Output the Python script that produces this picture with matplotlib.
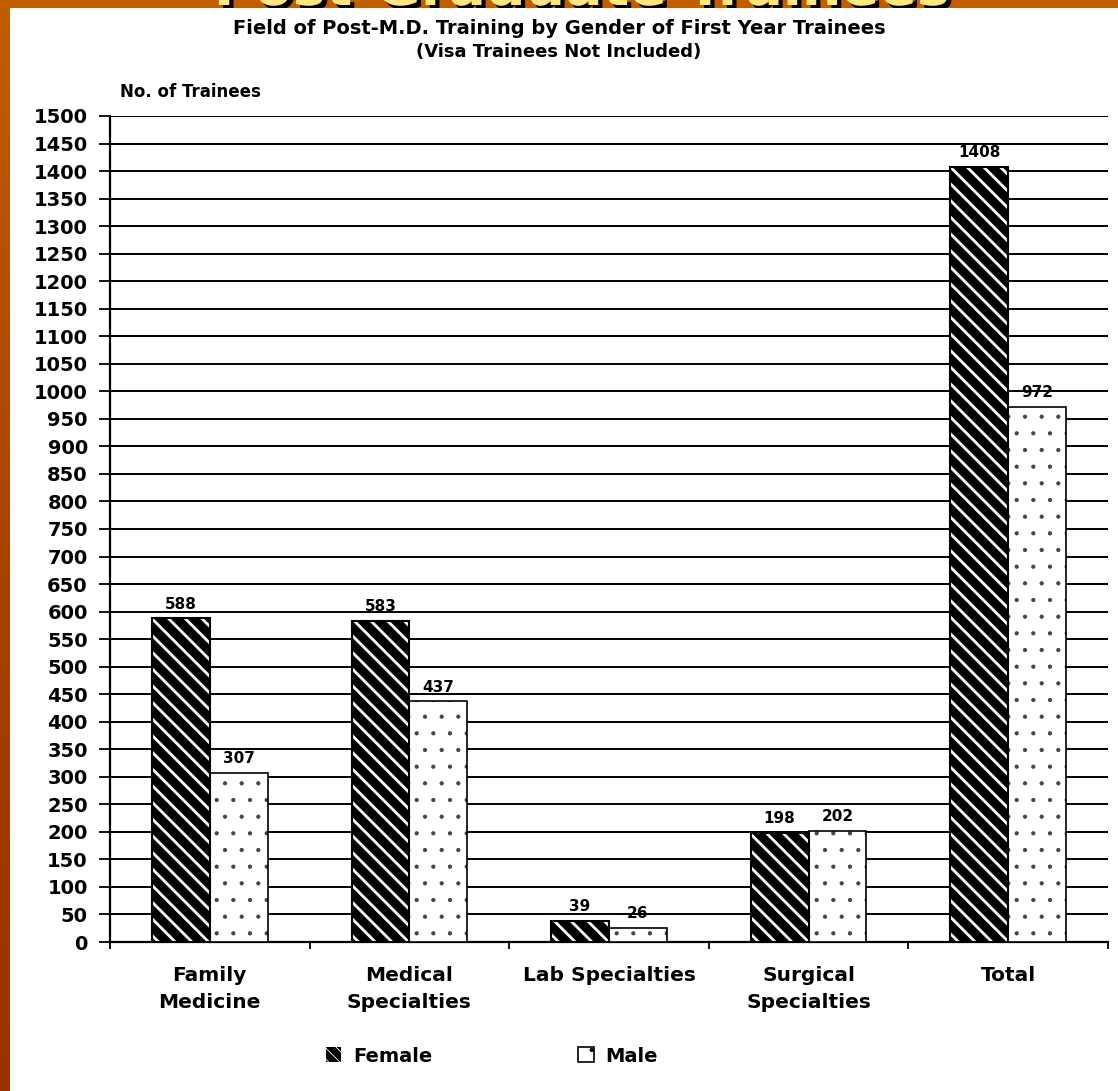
import matplotlib
matplotlib.use("Agg")
import matplotlib.pyplot as plt
import matplotlib.patheffects as pe
from matplotlib.patches import Rectangle
import numpy as np

# Data
categories = ["Family\nMedicine", "Medical\nSpecialties", "Lab Specialties",
              "Surgical\nSpecialties", "Total"]
female = [588, 583, 39, 198, 1408]
male = [307, 437, 26, 202, 972]
yticks = list(range(0, 1501, 50))

plt.rcParams["font.family"] = ["DejaVu Sans"]
plt.rcParams["font.weight"] = "bold"

W, H = 1118, 1091
fig = plt.figure(figsize=(W / 100, H / 100), dpi=100)

# orange slide background (dark gradient toward bottom)
bg = fig.add_axes([0, 0, 1, 1], zorder=0)
grad = np.linspace(0, 1, 256).reshape(-1, 1)
bg.imshow(grad, aspect="auto", cmap=matplotlib.colors.LinearSegmentedColormap.from_list(
    "slide", ["#C05E00", "#A84400", "#963300"]), extent=[0, 1, 0, 1], origin="upper")
bg.set_axis_off()

# slide title peeking above the white panel
fig.text(0.52, 1 - 5 / H, "Post-Graduate Trainees", fontsize=40, color="#FFE680",
         weight="bold", ha="center", va="baseline", zorder=1,
         path_effects=[pe.withSimplePatchShadow(offset=(3, -3), shadow_rgbFace="black", alpha=1)])
fig.patches.append(Rectangle((10 / W, 0), 1, 1 - 8 / H, transform=fig.transFigure,
                             facecolor="white", edgecolor="none", zorder=2))

ax = fig.add_axes([110 / W, 1 - 942 / H, (1108 - 110) / W, (942 - 116) / H], zorder=3)
ax.set_facecolor("none")

x = np.arange(len(categories))
w = 0.29
# female: black with white diagonal stripes
plt.rcParams["hatch.linewidth"] = 2.0
ax.bar(x - w / 2, female, w, color="black", edgecolor="white", hatch="\\\\", linewidth=0, zorder=3)
# male: white with sparse small dots
plt.rcParams["hatch.linewidth"] = 0.6
ax.bar(x + w / 2, male, w, color="white", edgecolor="#444444", hatch=".", linewidth=0, zorder=3)
ax.bar(x - w / 2, female, w, fill=False, edgecolor="black", linewidth=1.5, zorder=4)
ax.bar(x + w / 2, male, w, fill=False, edgecolor="black", linewidth=1.2, zorder=4)

for xi, v in zip(x - w / 2, female):
    ax.text(xi, v + 12, str(v), ha="center", va="bottom", fontsize=11, weight="bold", zorder=5)
for xi, v in zip(x + w / 2, male):
    ax.text(xi, v + 12, str(v), ha="center", va="bottom", fontsize=11, weight="bold", zorder=5)

ax.set_xlim(-0.5, len(categories) - 0.5)
ax.set_ylim(0, 1500)
ax.set_yticks(yticks)
ax.set_yticklabels([str(t) for t in yticks], fontsize=14, weight="bold")
ax.yaxis.grid(True, color="black", linewidth=1.4)
ax.set_axisbelow(True)
ax.tick_params(axis="y", direction="out", length=8, width=1.3, pad=8)

ax.set_xticks(x)
ax.set_xticklabels(categories, fontsize=14.5, weight="bold", linespacing=1.55)
ax.set_xticks(np.arange(-0.5, len(categories)), minor=True)
ax.tick_params(axis="x", which="major", length=0, pad=17)
ax.tick_params(axis="x", which="minor", direction="out", length=5, width=1.3)

for s in ["top", "right"]:
    ax.spines[s].set_visible(False)
ax.spines["left"].set_linewidth(1.6)
ax.spines["bottom"].set_linewidth(1.6)

fig.text(0.5, 1 - 28 / H, "Field of Post-M.D. Training by Gender of First Year Trainees",
         ha="center", va="center", fontsize=14, weight="bold", zorder=5)
fig.text(0.5, 1 - 52 / H, "(Visa Trainees Not Included)",
         ha="center", va="center", fontsize=13, weight="bold", zorder=5)
fig.text(120 / W, 1 - 92 / H, "No. of Trainees", ha="left", va="center",
         fontsize=12, weight="bold", zorder=5)

# legend
plt.rcParams["hatch.linewidth"] = 1.5
h1 = Rectangle((0, 0), 1, 1, facecolor="black", edgecolor="white", hatch="\\\\\\", linewidth=0)
plt.rcParams["hatch.linewidth"] = 0.6
h2 = Rectangle((0, 0), 1, 1, facecolor="white", edgecolor="black", hatch=".", linewidth=1.2)
leg = fig.legend([h1, h2], ["Female", "Male"], loc="center", bbox_to_anchor=(0.44, 1 - 1056 / H),
                 ncol=2, frameon=False, fontsize=14, handlelength=0.8, handleheight=0.8,
                 handletextpad=0.6, columnspacing=7.5)
leg.set_zorder(5)

fig.savefig("out.png", dpi=100)
